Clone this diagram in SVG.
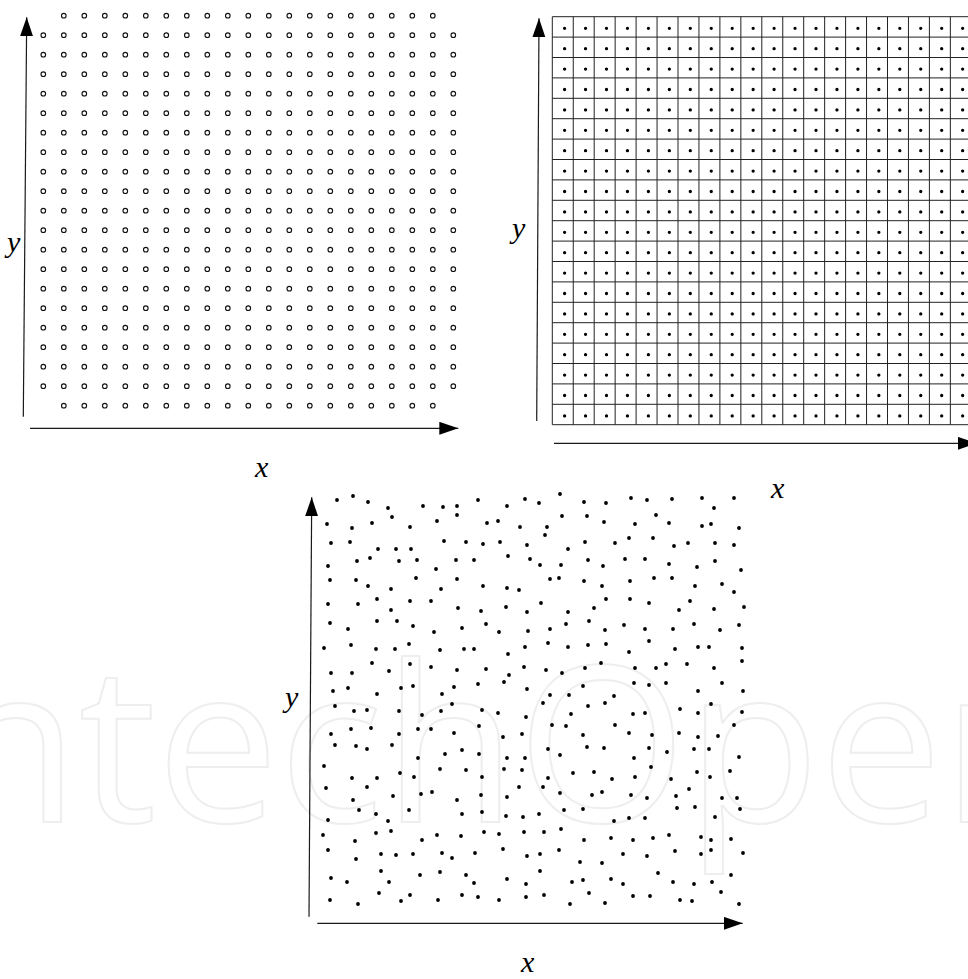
<svg xmlns="http://www.w3.org/2000/svg" width="968" height="979" viewBox="0 0 968 979">
<style>
.lbl{font-family:"Liberation Serif","Times New Roman",serif;font-style:italic;font-size:30px;fill:#000}
.axis{stroke:#1a1a1a;stroke-width:1.2;fill:none;marker-end:url(#ah)}
.ringO{fill:none;stroke:#111;stroke-width:5.7;stroke-linecap:round;stroke-dasharray:0 20.5}
.ringI{fill:none;stroke:#fff;stroke-width:3.5;stroke-linecap:round;stroke-dasharray:0 20.5}
.dots2{fill:none;stroke:#000;stroke-width:3.3;stroke-linecap:round;stroke-dasharray:0 20.95}
.grid{fill:none;stroke:#222;stroke-width:1}
.dots3{fill:none;stroke:#000;stroke-width:3.8;stroke-linecap:round}
.wm{font-family:"Open Sans","DejaVu Sans",sans-serif;font-size:218px;fill:none;stroke:#eeeeee;stroke-width:2}
</style>
<defs>
<marker id="ah" markerUnits="userSpaceOnUse" markerWidth="20" markerHeight="14" refX="19" refY="6.5" orient="auto"><path d="M0 0L19 6.5L0 13z" fill="#000"/></marker>
</defs>
<rect width="968" height="979" fill="#fff"/>
<g id="watermark"><text class="wm" x="-55" y="822">ntechOpen</text></g>

<g id="panel1">
<path class="ringO" d="M63.8 15.7h369.3M43.3 35.2h410.3M43.3 54.7h410.3M43.3 74.2h410.3M43.3 93.7h410.3M43.3 113.2h410.3M43.3 132.7h410.3M43.3 152.2h410.3M43.3 171.7h410.3M43.3 191.2h410.3M43.3 210.7h410.3M43.3 230.2h410.3M43.3 249.7h410.3M43.3 269.2h410.3M43.3 288.7h410.3M43.3 308.2h410.3M43.3 327.7h410.3M43.3 347.2h410.3M43.3 366.7h410.3M43.3 386.2h410.3M63.8 405.7h369.3"/>
<path class="ringI" d="M63.8 15.7h369.3M43.3 35.2h410.3M43.3 54.7h410.3M43.3 74.2h410.3M43.3 93.7h410.3M43.3 113.2h410.3M43.3 132.7h410.3M43.3 152.2h410.3M43.3 171.7h410.3M43.3 191.2h410.3M43.3 210.7h410.3M43.3 230.2h410.3M43.3 249.7h410.3M43.3 269.2h410.3M43.3 288.7h410.3M43.3 308.2h410.3M43.3 327.7h410.3M43.3 347.2h410.3M43.3 366.7h410.3M43.3 386.2h410.3M63.8 405.7h369.3"/>
<text class="lbl" x="7" y="252">y</text>
<text class="lbl" x="255" y="477">x</text>
</g>

<g id="panel2">
<path class="grid" d="M552.3 16.7V424.7M573.25 16.7V424.7M594.2 16.7V424.7M615.15 16.7V424.7M636.1 16.7V424.7M657.05 16.7V424.7M678 16.7V424.7M698.95 16.7V424.7M719.9 16.7V424.7M740.85 16.7V424.7M761.8 16.7V424.7M782.75 16.7V424.7M803.7 16.7V424.7M824.65 16.7V424.7M845.6 16.7V424.7M866.55 16.7V424.7M887.5 16.7V424.7M908.45 16.7V424.7M929.4 16.7V424.7M950.35 16.7V424.7M971.3 16.7V424.7M552.3 16.7H971.3M552.3 37.1H971.3M552.3 57.5H971.3M552.3 77.9H971.3M552.3 98.3H971.3M552.3 118.7H971.3M552.3 139.1H971.3M552.3 159.5H971.3M552.3 179.9H971.3M552.3 200.3H971.3M552.3 220.7H971.3M552.3 241.1H971.3M552.3 261.5H971.3M552.3 281.9H971.3M552.3 302.3H971.3M552.3 322.7H971.3M552.3 343.1H971.3M552.3 363.5H971.3M552.3 383.9H971.3M552.3 404.3H971.3M552.3 424.7H971.3"/>
<path class="dots2" d="M564.6 28.3h398.2M564.6 48.7h398.2M564.6 69.1h398.2M564.6 89.5h398.2M564.6 109.9h398.2M564.6 130.3h398.2M564.6 150.7h398.2M564.6 171.1h398.2M564.6 191.5h398.2M564.6 211.9h398.2M564.6 232.3h398.2M564.6 252.7h398.2M564.6 273.1h398.2M564.6 293.5h398.2M564.6 313.9h398.2M564.6 334.3h398.2M564.6 354.7h398.2M564.6 375.1h398.2M564.6 395.5h398.2M564.6 415.9h398.2"/>
<text class="lbl" x="512" y="238">y</text>
<text class="lbl" x="771" y="498">x</text>
</g>

<g id="panel3">
<path class="dots3" d="M337 500h0M353 496h0M368 502h0M388 508h0M423 506h0M443 507h0M457 506h0M478 500h0M507 506h0M327 524h0M352 528h0M372 523h0M392 517h0M410 527h0M437 521h0M457 515h0M487 523h0M498 521h0M520 527h0M331 543h0M350 542h0M378 549h0M396 549h0M411 549h0M444 541h0M466 542h0M483 544h0M500 542h0M357 561h0M370 558h0M399 561h0M417 560h0M456 560h0M474 560h0M508 556h0M328 566h0M436 569h0M330 580h0M356 580h0M368 586h0M391 589h0M416 578h0M441 589h0M457 579h0M483 586h0M507 588h0M519 590h0M328 604h0M358 604h0M377 599h0M410 601h0M431 601h0M391 610h0M458 608h0M481 611h0M506 607h0
M525 499h0M539 503h0M560 494h0M584 502h0M606 503h0M631 498h0M647 500h0M672 499h0M702 498h0M734 498h0M714 508h0M562 516h0M587 516h0M656 515h0M547 527h0M604 522h0M635 524h0M669 523h0M702 526h0M711 524h0M739 528h0M545 535h0M527 545h0M568 549h0M585 542h0M615 543h0M629 538h0M653 538h0M674 546h0M688 543h0M715 543h0M734 545h0M530 559h0M540 565h0M561 565h0M588 560h0M603 566h0M625 559h0M645 559h0M669 564h0M697 567h0M715 561h0M741 570h0M550 579h0M559 578h0M584 581h0M602 586h0M630 581h0M654 578h0M672 578h0M695 586h0M722 584h0M734 592h0M541 603h0M606 599h0M630 599h0M649 603h0M690 601h0M594 608h0M679 610h0M714 609h0M744 607h0M527 612h0M568 612h0
M330 623h0M348 629h0M377 621h0M397 621h0M413 626h0M434 632h0M462 628h0M486 624h0M499 632h0M528 631h0M550 629h0M566 624h0M589 621h0M605 630h0M624 625h0M645 629h0M673 629h0M694 624h0M720 630h0M739 625h0M324 648h0M351 645h0M376 649h0M395 649h0M409 644h0M440 650h0M464 649h0M474 649h0M508 654h0M525 647h0M548 643h0M568 647h0M588 645h0M606 644h0M629 652h0M649 641h0M675 649h0M698 647h0M709 647h0M742 648h0M372 663h0M410 664h0M431 667h0M331 673h0M352 673h0M389 671h0M457 670h0M486 669h0M509 675h0M524 667h0M546 670h0M562 673h0M585 668h0M601 663h0M635 668h0M656 668h0M666 664h0M687 664h0M714 668h0M742 661h0M333 691h0M348 688h0M377 694h0M401 688h0M413 686h0M442 694h0M454 687h0M478 684h0M504 682h0M527 689h0M550 695h0M569 695h0M583 686h0M614 696h0M634 683h0M649 685h0M666 683h0M698 691h0M722 683h0M743 691h0M335 706h0M354 711h0M367 710h0M399 711h0M422 715h0M441 711h0M452 704h0M482 710h0M498 713h0M526 717h0M543 703h0M571 714h0M588 706h0M605 703h0M633 714h0M645 713h0M680 709h0M698 713h0M711 704h0M742 712h0
M331 734h0M351 729h0M371 728h0M399 734h0M418 729h0M431 729h0M454 733h0M479 726h0M503 737h0M522 734h0M552 725h0M566 726h0M583 735h0M615 725h0M629 733h0M652 735h0M679 733h0M698 737h0M718 736h0M734 725h0M335 745h0M356 746h0M367 749h0M392 745h0M445 754h0M462 750h0M479 754h0M548 749h0M560 755h0M587 747h0M604 748h0M649 748h0M667 752h0M694 749h0M709 749h0M418 758h0M507 758h0M525 758h0M634 758h0M739 757h0M324 766h0M440 769h0M466 770h0M504 769h0M522 770h0M651 767h0M697 772h0M730 771h0M573 773h0M594 772h0M352 778h0M377 778h0M400 773h0M414 777h0M482 777h0M548 778h0M612 779h0M635 777h0M671 779h0M710 777h0M326 788h0M367 787h0M519 787h0M543 787h0M689 789h0M393 796h0M421 794h0M432 792h0M481 795h0M507 797h0M560 793h0M592 795h0M602 792h0M631 795h0M647 798h0M676 796h0M722 798h0M737 798h0M353 800h0M457 800h0M359 810h0M376 814h0M409 810h0M462 814h0M482 812h0M506 816h0M523 817h0M539 814h0M564 810h0M583 809h0M677 808h0M695 807h0M740 809h0M328 820h0M388 821h0M614 821h0M629 818h0M645 818h0M715 817h0
M323 835h0M355 841h0M376 833h0M391 831h0M422 840h0M437 835h0M461 836h0M484 832h0M499 834h0M524 832h0M544 832h0M561 829h0M584 840h0M611 838h0M633 840h0M653 838h0M669 835h0M701 837h0M711 840h0M731 839h0M328 850h0M356 859h0M381 854h0M396 855h0M413 854h0M442 853h0M452 858h0M475 853h0M503 849h0M527 856h0M540 854h0M559 850h0M580 862h0M602 863h0M623 854h0M647 856h0M675 851h0M701 854h0M711 850h0M743 853h0M331 878h0M347 882h0M381 871h0M389 882h0M420 875h0M440 872h0M466 875h0M474 883h0M507 879h0M526 884h0M540 871h0M572 882h0M583 880h0M611 879h0M623 884h0M658 873h0M673 882h0M694 884h0M712 882h0M731 875h0M330 900h0M358 904h0M379 893h0M401 901h0M410 895h0M438 900h0M462 895h0M478 897h0M499 900h0M526 897h0M544 895h0M570 904h0M589 893h0M605 903h0M633 896h0M650 896h0M680 900h0M692 901h0M721 892h0M739 904h0"/>
<text class="lbl" x="285" y="707">y</text>
<text class="lbl" x="521" y="972">x</text>
</g>

<g id="axes">
<path class="axis" d="M23.3 416.7L26.7 17.3"/>
<path class="axis" d="M30 428.3H458.3"/>
<path class="axis" d="M536.7 421L539 18.3"/>
<path class="axis" d="M554 443.3H976.7"/>
<path class="axis" d="M309 916.7L311.7 497.3"/>
<path class="axis" d="M317.3 923.3H742.7"/>
</g>
</svg>
